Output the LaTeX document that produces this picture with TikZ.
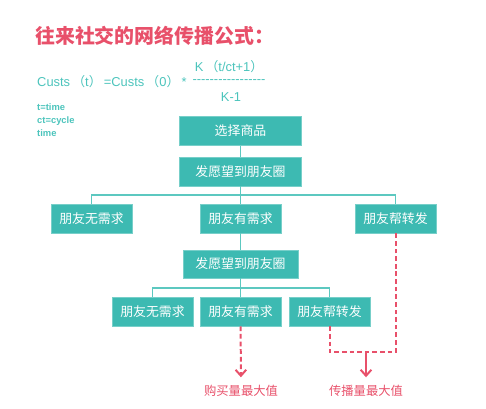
\documentclass[tikz,border=0pt]{standalone}
\usepackage{fontspec}
\setmainfont{Liberation Sans}
\newfontfamily\cjk{Noto Sans CJK SC}
\newfontfamily\dashfont{Liberation Sans}
\usepackage{tikz}
\usetikzlibrary{arrows.meta, positioning, calc}
\definecolor{tealbox}{RGB}{61,186,178}
\definecolor{tealline}{RGB}{92,200,192}
\definecolor{tealtext}{RGB}{76,196,188}
\definecolor{pinkred}{RGB}{232,80,106}
\newcommand{\lp}{{\cjk （}}
\newcommand{\rp}{{\cjk ）}}
\tikzset{
    stepbox/.style={rectangle, fill=tealbox, draw=tealbox!70!white, line width=0.6pt, text=white, minimum width=2.43cm, minimum height=0.87cm, inner sep=0pt, font=\cjk\fontsize{11}{13}\selectfont},
    widebox/.style={stepbox, minimum width=3.66cm},
    midbox/.style={stepbox, minimum width=3.45cm, minimum height=0.84cm},
    treeline/.style={draw=tealline, line width=1.1pt},
    formula/.style={text=tealtext, inner sep=0pt, text height=1.6ex, text depth=0.2ex, font=\fontsize{11}{13}\selectfont},
    hotdash/.style={draw=pinkred, line width=1.7pt, dash pattern=on 4pt off 2.5pt},
    hotarrow/.style={-{Straight Barb[length=1.8mm,width=3.2mm,line width=1.7pt]}, draw=pinkred, line width=1.7pt, shorten >=0.2cm},
    maxlabel/.style={text=pinkred, font=\cjk\fontsize{10.5}{12}\selectfont, inner sep=1pt}
}

\begin{document}
\begin{tikzpicture}[x=0.03cm, y=-0.03cm]
    \useasboundingbox (0,0) rectangle (486,408);

    % Title and formula
    \node[anchor=west, text=pinkred, inner sep=0pt, font=\cjk\bfseries\fontsize{17}{19}\selectfont] (title) at (35,36) {往来社交的网络传播公式：};
    \node[formula, anchor=west] (lhs) at (37,82) {Custs\,\lp t\rp\,=Custs\,\lp 0\rp\,*};
    \node[formula] (num) at (229,67) {K\,\lp t/ct+1\rp};
    \node[formula, text height=0.6ex, font=\dashfont\fontsize{11}{13}\selectfont] (bar) at (229,82) {-----------------};
    \node[formula] (den) at (231,97) {K-1};
    \node[anchor=north west, align=left, text=tealtext, inner sep=0pt, font=\bfseries\fontsize{8}{11.2}\selectfont] (legend) at (37,103) {t=time\\ct=cycle\\time};

    % Boxes
    \node[widebox] (pick) at (240.5,131) {选择商品};
    \node[widebox] (post1) at (240.5,171.5) {发愿望到朋友圈};
    \node[stepbox] (no1) at (91.5,218.5) {朋友无需求};
    \node[stepbox] (need1) at (240.5,218.5) {朋友有需求};
    \node[stepbox] (fwd1) at (395.5,218.5) {朋友帮转发};
    \node[midbox] (post2) at (240.5,264) {发愿望到朋友圈};
    \node[stepbox] (no2) at (152.5,311.5) {朋友无需求};
    \node[stepbox] (need2) at (240.5,311.5) {朋友有需求};
    \node[stepbox] (fwd2) at (329.5,311.5) {朋友帮转发};

    % Tree connectors
    \coordinate (bus1) at (240.5,195);
    \coordinate (bus2) at (240.5,288);
    \draw[treeline] (pick) -- (post1);
    \draw[treeline] (post1) -- (need1);
    \draw[treeline] (bus1) -| (no1);
    \draw[treeline] (bus1) -| (fwd1);
    \draw[treeline] (need1) -- (post2);
    \draw[treeline] (post2) -- (need2);
    \draw[treeline] (bus2) -| (no2);
    \draw[treeline] (bus2) -| (fwd2);

    % Results
    \node[maxlabel] (buymax) at (241,391) {购买量最大值};
    \node[maxlabel] (spreadmax) at (366,391) {传播量最大值};
    \coordinate (loopR) at (395.5,352);
    \coordinate (loopM) at (366,352);
    \draw[hotdash, hotarrow] (need2) -- (buymax);
    \draw[hotdash] (fwd2) |- (loopR) -- (fwd1);
    \draw[hotarrow] (loopM) -- (spreadmax);
\end{tikzpicture}
\end{document}
